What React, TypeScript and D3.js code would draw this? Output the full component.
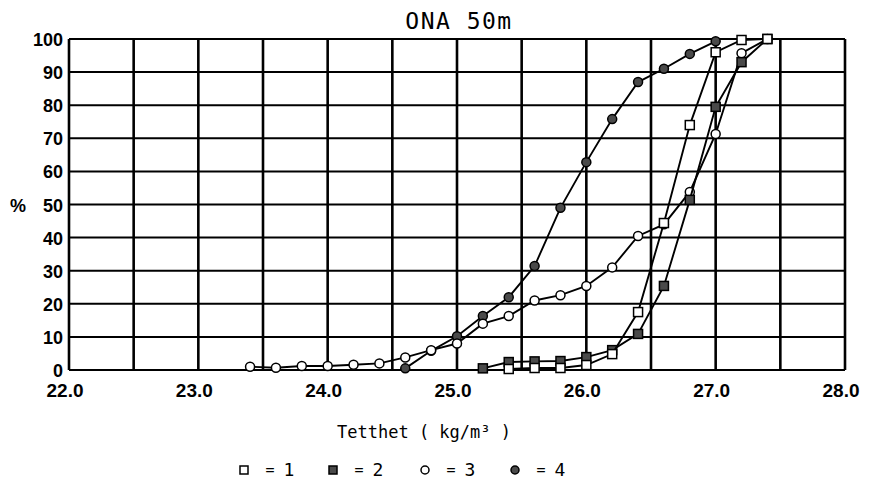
import React from "react";
import * as d3 from "d3";

// density values (kg/m3) and cumulative percent per series
const dens1 = [25.4, 25.6, 25.8, 26.0, 26.2, 26.4, 26.6, 26.8, 27.0, 27.2, 27.4];
const pct1 = [0.3, 0.6, 0.6, 1.5, 4.8, 17.5, 44.4, 74, 96, 99.7, 100];

const dens2 = [25.2, 25.4, 25.6, 25.8, 26.0, 26.2, 26.4, 26.6, 26.8, 27.0, 27.2, 27.4];
const pct2 = [0.5, 2.4, 2.6, 2.7, 3.9, 6, 10.9, 25.4, 51.4, 79.5, 93, 100];

const dens3 = [23.4, 23.6, 23.8, 24.0, 24.2, 24.4, 24.6, 24.8, 25.0, 25.2, 25.4, 25.6, 25.8, 26.0, 26.2, 26.4, 26.6, 26.8, 27.0, 27.2, 27.4];
const pct3 = [1.0, 0.7, 1.2, 1.2, 1.6, 2.0, 3.8, 6, 8, 14, 16.3, 21, 22.6, 25.4, 31, 40.5, 44, 53.8, 71.3, 95.7, 100];

const dens4 = [24.6, 24.8, 25.0, 25.2, 25.4, 25.6, 25.8, 26.0, 26.2, 26.4, 26.6, 26.8, 27.0];
const pct4 = [0.5, 5.8, 10.2, 16.3, 22, 31.4, 49, 62.8, 75.8, 87, 91, 95.5, 99.3];

const xTicks = [22, 23, 24, 25, 26, 27, 28];
const xGrid = d3.range(22, 28.01, 0.5);
const yTicks = d3.range(0, 101, 10);

const legend = [
  { label: "1", marker: "openSquare" },
  { label: "2", marker: "fillSquare" },
  { label: "3", marker: "openCircle" },
  { label: "4", marker: "fillCircle" },
];
const legendX = [244, 333, 425, 515];

const width = 888;
const height = 486;
const margin = { top: 39, right: 43, bottom: 116, left: 69 };

const x = d3.scaleLinear().domain([22, 28]).range([margin.left, width - margin.right]);
const y = d3.scaleLinear().domain([0, 100]).range([height - margin.bottom, margin.top]);

const shade = "#4a4a4a";

const Marker = ({ kind, cx, cy, s = 9 }: { kind: string; cx: number; cy: number; s?: number }) => {
  if (kind === "openSquare")
    return <rect x={cx - s / 2} y={cy - s / 2} width={s} height={s} fill="#fff" stroke="#000" strokeWidth={1.5} />;
  if (kind === "fillSquare")
    return <rect x={cx - s / 2} y={cy - s / 2} width={s} height={s} fill={shade} stroke="#000" strokeWidth={1.5} />;
  if (kind === "openCircle") return <circle cx={cx} cy={cy} r={s / 2} fill="#fff" stroke="#000" strokeWidth={1.5} />;
  return <circle cx={cx} cy={cy} r={s / 2} fill={shade} stroke="#000" strokeWidth={1.5} />;
};

const series = [
  { xs: dens4, ys: pct4, marker: "fillCircle" },
  { xs: dens3, ys: pct3, marker: "openCircle" },
  { xs: dens2, ys: pct2, marker: "fillSquare" },
  { xs: dens1, ys: pct1, marker: "openSquare" },
];

export default function App() {
  const line = d3
    .line<[number, number]>()
    .x((d) => x(d[0]))
    .y((d) => y(d[1]));

  const tickFont = "'Liberation Sans', Arial, sans-serif";
  const plotFont = "'DejaVu Sans Mono', monospace";

  return (
    <svg width={width} height={height} style={{ position: "absolute", left: 0, top: 0, background: "#fff" }}>
      {/* horizontal grid */}
      {yTicks.map((t) => (
        <line key={"h" + t} x1={x(22)} x2={x(28)} y1={y(t)} y2={y(t)} stroke="#000" strokeWidth={2} />
      ))}
      {/* vertical grid */}
      {xGrid.map((t) => (
        <line key={"v" + t} x1={x(t)} x2={x(t)} y1={y(0)} y2={y(100)} stroke="#000" strokeWidth={2.6} />
      ))}

      {/* y tick labels */}
      {yTicks.map((t) => (
        <text key={"yl" + t} x={x(22) - 6} y={y(t) + 7} textAnchor="end" fontFamily={tickFont} fontWeight="bold" fontSize={18}>
          {t}
        </text>
      ))}
      <text x={18} y={y(50) + 7} textAnchor="middle" fontFamily={tickFont} fontWeight="bold" fontSize={18}>
        %
      </text>

      {/* x tick labels */}
      {xTicks.map((t) => (
        <text key={"xl" + t} x={x(t) - 4} y={y(0) + 27} textAnchor="middle" fontFamily={tickFont} fontWeight="bold" fontSize={19}>
          {t.toFixed(1)}
        </text>
      ))}

      {/* series */}
      {series.map((s, i) => (
        <g key={"s" + i}>
          <path
            d={line(s.xs.map((v, j) => [v, s.ys[j]] as [number, number])) || ""}
            fill="none"
            stroke="#000"
            strokeWidth={1.9}
          />
          {s.xs.map((v, j) => (
            <Marker key={j} kind={s.marker} cx={x(v)} cy={y(s.ys[j])} />
          ))}
        </g>
      ))}

      {/* title */}
      <text x={459} y={29} textAnchor="middle" fontFamily={plotFont} fontSize={23} letterSpacing={1.5}>
        ONA 50m
      </text>
      {/* x axis title */}
      <text x={424} y={438} textAnchor="middle" fontFamily={plotFont} fontSize={17}>
        Tetthet ( kg/m³ )
      </text>

      {/* legend */}
      {legend.map((l, i) => {
        const lx = legendX[i];
        const ly = 470;
        return (
          <g key={"lg" + i}>
            <Marker kind={l.marker} cx={lx} cy={ly} s={8} />
            <text x={lx + 26} y={ly + 5} textAnchor="middle" fontFamily={plotFont} fontSize={15}>
              =
            </text>
            <text x={lx + 45} y={ly + 6} textAnchor="middle" fontFamily={plotFont} fontSize={18}>
              {l.label}
            </text>
          </g>
        );
      })}
    </svg>
  );
}
